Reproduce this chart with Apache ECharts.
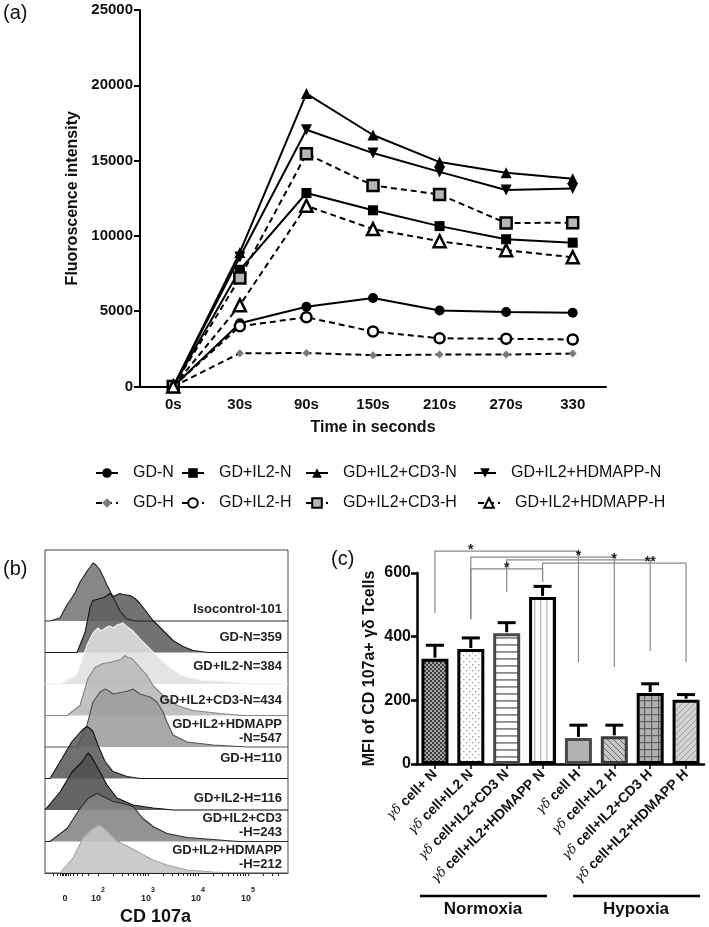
<!DOCTYPE html>
<html><head><meta charset="utf-8">
<script src="https://cdn.jsdelivr.net/npm/echarts@6/dist/echarts.min.js"></script>
<style>html,body{margin:0;padding:0;background:#fff}#c{width:709px;height:927px}</style>
</head><body><div id="c"></div>
<script>
// ---------- Panel (a) data ----------
const timeLabels = ['0s','30s','90s','150s','210s','270s','330'];
const gdN          = [0,4200,5300,5880,5050,4950,4900];
const gdIL2N       = [0,7750,12850,11700,10650,9780,9550];
const gdIL2CD3N    = [0,8900,19450,16700,14900,14200,13800];
const gdIL2HDMAPPN = [0,8600,17050,15500,14250,13050,13150];
const gdH          = [0,2210,2220,2080,2120,2120,2190];
const gdIL2H       = [0,4000,4600,3650,3200,3170,3120];
const gdIL2CD3H    = [0,7200,15450,13350,12750,10850,10880];
const gdIL2HDMAPPH = [0,5400,12000,10450,9650,9050,8580];
const seriesNamesA = ['GD-N','GD+IL2-N','GD+IL2+CD3-N','GD+IL2+HDMAPP-N','GD-H','GD+IL2-H','GD+IL2+CD3-H','GD+IL2+HDMAPP-H'];

// ---------- Panel (b) data: histogram [log-decade position, height] ----------
const histNames = ['Isocontrol-101','GD-N=359','GD+IL2-N=384','GD+IL2+CD3-N=434','GD+IL2+HDMAPP\n-N=547','GD-H=110','GD+IL2-H=116','GD+IL2+CD3\n-H=243','GD+IL2+HDMAPP\n-H=212'];
const hIso  = [[1.04,0],[1.24,3],[1.38,16],[1.54,28],[1.64,39],[1.72,45],[1.78,50],[1.86,55],[1.90,58],[1.96,56],[2.04,51],[2.18,36],[2.30,24],[2.44,10],[2.58,2],[2.74,0]];
const hGDN  = [[1.58,0],[1.74,20],[1.84,45],[1.90,52],[2.04,54],[2.12,55],[2.18,57],[2.24,59],[2.30,56],[2.34,57],[2.44,59],[2.50,58],[2.54,60],[2.64,57],[2.74,54],[2.84,49],[2.98,40],[3.10,32],[3.30,22],[3.50,12],[3.70,6],[3.90,2],[4.20,0]];
const hIL2N = [[1.24,0],[1.58,9],[1.78,39],[1.90,51],[2.00,56],[2.06,53],[2.10,54],[2.18,57],[2.24,58],[2.30,56],[2.38,59],[2.44,60],[2.50,61],[2.56,58],[2.60,59],[2.70,53],[2.90,42],[3.10,32],[3.38,19],[3.64,9],[4.04,4],[4.58,2],[5.04,0]];
const hCD3N = [[1.38,0],[1.64,10],[1.80,37],[1.94,48],[2.10,52],[2.24,53],[2.38,55],[2.46,56],[2.54,60],[2.60,58],[2.68,57],[2.84,48],[2.98,40],[3.10,30],[3.30,20],[3.58,10],[3.90,5],[4.44,2],[4.90,0]];
const hHDN  = [[1.58,0],[1.78,22],[1.90,45],[2.04,55],[2.14,58],[2.22,56],[2.30,53],[2.40,54],[2.50,55],[2.60,56],[2.70,58],[2.84,53],[3.04,50],[3.18,45],[3.30,35],[3.38,25],[3.50,12],[3.78,5],[4.30,2],[5.00,0]];
const hGDH  = [[1.04,0],[1.28,20],[1.48,37],[1.64,46],[1.72,50],[1.78,52],[1.84,50],[1.90,47],[2.00,33],[2.14,17],[2.30,7],[2.58,2],[2.84,0]];
const hIL2H = [[0.98,0],[1.24,18],[1.48,38],[1.68,48],[1.76,54],[1.80,57],[1.86,54],[1.90,52],[2.04,38],[2.18,25],[2.38,12],[2.70,5],[3.10,2],[3.50,0]];
const hCD3H = [[1.04,0],[1.38,13],[1.64,33],[1.80,43],[1.98,48],[2.10,45],[2.30,40],[2.50,38],[2.70,35],[2.90,23],[3.10,15],[3.38,8],[3.78,4],[4.30,2],[4.80,0]];
const hHDH  = [[1.24,0],[1.50,15],[1.70,35],[1.90,45],[2.04,48],[2.18,42],[2.38,32],[2.58,27],[2.84,20],[3.10,13],[3.38,8],[3.78,3],[4.30,1],[4.80,0]];
const histData = [hIso,hGDN,hIL2N,hCD3N,hHDN,hGDH,hIL2H,hCD3H,hHDH];
const histTickPos = [1.34,2,3,4,5];
const histTickText = ['0','2','3','4','5'];

// ---------- Panel (c) data ----------
const mfiCats = ['γδ cell+ N','γδ cell+IL2 N','γδ cell+IL2+CD3 N','γδ cell+IL2+HDMAPP N','γδ cell H','γδ cell+IL2 H','γδ cell+IL2+CD3 H','γδ cell+IL2+HDMAPP H'];
const mfiMean = [331,361,411,525,82,87,223,202];
const mfiSem  = [42,35,33,33,40,35,29,16];
const sigPairs  = [[0,4],[1,5],[2,6],[3,7],[1,3]];
const sigLevels = [669,650,641,631,613];
const sigLeftEnd  = [474,455,540,572,455];
const sigRightEnd = [320,305,355,320,572];
const sigLabels = ['*','*','*','**','*'];
const sigLabelPos = [1.42,4.26,5.29,6.46,2.42];
const groupNames = ['Normoxia','Hypoxia'];

// ---------- build ----------
const FONT = 'Liberation Sans, Arial, Helvetica, sans-serif';
const chart = echarts.init(document.getElementById('c'), null, {renderer:'canvas'});

function pat(size, draw){const c=document.createElement('canvas');c.width=c.height=size;const x=c.getContext('2d');draw(x,size);return {image:c,repeat:'repeat'};}
const barFills = [
  pat(4,(x,s)=>{x.fillStyle='#3c3c3c';x.fillRect(0,0,s,s);x.fillStyle='#a8a8a8';x.fillRect(0,0,2,2);x.fillRect(2,2,2,2);}),
  pat(6,(x,s)=>{x.fillStyle='#fff';x.fillRect(0,0,s,s);x.fillStyle='#9a9a9a';x.fillRect(1,1,1.3,1.3);x.fillRect(4,4,1.3,1.3);}),
  pat(7,(x,s)=>{x.fillStyle='#fff';x.fillRect(0,0,s,s);x.fillStyle='#8a8a8a';x.fillRect(0,0,s,1.8);}),
  pat(6,(x,s)=>{x.fillStyle='#fff';x.fillRect(0,0,s,s);x.fillStyle='#c4c4c4';x.fillRect(0,0,1.5,s);}),
  '#b3b3b3',
  pat(6,(x,s)=>{x.fillStyle='#c6c6c6';x.fillRect(0,0,s,s);x.strokeStyle='#6a6a6a';x.lineWidth=1;x.beginPath();[-6,0,6].forEach(k=>{x.moveTo(k,0);x.lineTo(k+6,6);});x.stroke();}),
  pat(7,(x,s)=>{x.fillStyle='#b0b0b0';x.fillRect(0,0,s,s);x.fillStyle='#5e5e5e';x.fillRect(0,0,s,1.2);x.fillRect(0,0,1.2,s);}),
  pat(6,(x,s)=>{x.fillStyle='#d2d2d2';x.fillRect(0,0,s,s);x.strokeStyle='#a0a0a0';x.lineWidth=1;x.beginPath();[-6,0,6].forEach(k=>{x.moveTo(k,6);x.lineTo(k+6,0);});x.stroke();})
];
const barBorders = ['#000','#000','#4a4a4a','#000','#4a4a4a','#3a3a3a','#000','#000'];

// panel (a) series styles
const aData = [gdN,gdIL2N,gdIL2CD3N,gdIL2HDMAPPN,gdH,gdIL2H,gdIL2CD3H,gdIL2HDMAPPH];
const aSym = ['circle','rect','triangle','path://M0,0L10,0L5,9Z','diamond','circle','rect','triangle'];
const aSize = [10,10,11,11,8,10,11,12];
const aFill = ['#000','#000','#000','#000','#7a7a7a','#fff','#b5b5b5','#fff'];
const aBorderW = [0,0,0,0,0,2.5,2.5,2.5];
const seriesA = aData.map((d,i)=>({
  type:'line', name:seriesNamesA[i], xAxisIndex:0, yAxisIndex:0, data:d,
  symbol:aSym[i], symbolSize:aSize[i], showAllSymbol:true,
  lineStyle:{color:'#000', width:2, type: i<4 ? 'solid' : [6,4]},
  itemStyle:{color:aFill[i], borderColor:'#000', borderWidth:aBorderW[i]},
  z: 3+i
}));
const legPos = [[90,460],[176,460],[300,460],[468,460],[90,490],[176,490],[300,490],[472,490]];
const legends = seriesNamesA.map((n,i)=>({
  data:[n], left:legPos[i][0], top:legPos[i][1], orient:'horizontal', selectedMode:false,
  itemWidth:22, itemHeight:12, itemGap:0,
  textStyle:{fontSize:16, fontFamily:FONT, color:'#111', padding:[0,0,0,10]}
}));

// panel (b) series
const histFill = ['#767676','#5e5e5e','#e0e0e0','#b8b8b8','#9c9c9c','#5c5c5c','#505050','#848484','#c4c4c4'];
const histLine = ['#222','#141414','#f2f2f2','#858585','#505050','#141414','#0c0c0c','#2a2a2a','#a4a4a4'];
const STEP = 31.5, XMIN=0.94, XMAX=5.8;
const seriesB = histData.map((h,i)=>{
  const off = (8-i)*STEP;
  const pts = [[XMIN,off]].concat(h.map(p=>[p[0],off+p[1]])).concat([[XMAX,off]]);
  return {type:'line', xAxisIndex:1, yAxisIndex:1, data:pts, symbol:'none', silent:true,
    lineStyle:{color:histLine[i], width:1.1},
    areaStyle:{color:histFill[i], opacity:0.88, origin:off}, z:2};
});
const labLift = [12,15,18,15,16,20,12,16,16];
seriesB.push({type:'custom', xAxisIndex:1, yAxisIndex:1, clip:false, silent:true, z:10,
  data: histNames.map((n,i)=>[XMAX, (8-i)*STEP, i]),
  renderItem:(p,api)=>{const i=api.value(2);const c=api.coord([api.value(0),api.value(1)]);
    return {type:'text', x:c[0]-6, y:c[1]-labLift[i], style:{text:histNames[i], font:'bold 13px '+FONT, fill:'#222', align:'right', verticalAlign:'middle', lineHeight:14}};}
});

// minor log ticks for flow axis
const flowTicks = [1.1,1.18,1.24,1.28,1.31,1.34,1.37,1.4,1.44,1.5,1.58,1.68,1.8];
for(let d=2; d<=5; d++){ flowTicks.push(d); if(d<5) for(let k=2;k<=9;k++) flowTicks.push(d+Math.log10(k)); }
flowTicks.push(5.301,5.477,5.602);

// panel (c) series
const seriesC = [
  {type:'bar', xAxisIndex:2, yAxisIndex:2, barWidth:27, z:2,
   data: mfiMean.map((v,i)=>({value:v, itemStyle:{color:barFills[i], borderColor:barBorders[i], borderWidth:3}}))},
  {type:'custom', xAxisIndex:2, yAxisIndex:2, clip:false, z:4, silent:true,
   data: mfiMean.map((m,i)=>[i,m,m+mfiSem[i]]),
   renderItem:(p,api)=>{const a=api.coord([api.value(0),api.value(1)]);const b=api.coord([api.value(0),api.value(2)]);
     return {type:'group',children:[
       {type:'line',shape:{x1:a[0],y1:a[1]-1,x2:b[0],y2:b[1]},style:{stroke:'#000',lineWidth:3}},
       {type:'line',shape:{x1:b[0]-9,y1:b[1],x2:b[0]+9,y2:b[1]},style:{stroke:'#000',lineWidth:3}}]};}},
  {type:'custom', xAxisIndex:2, yAxisIndex:2, clip:false, z:1, silent:true,
   data: sigPairs.map((pr,i)=>[pr[0],pr[1],sigLevels[i],sigLeftEnd[i],sigRightEnd[i]]),
   renderItem:(p,api)=>{const x1=api.value(0),x2=api.value(1),lv=api.value(2);
     const pts=[api.coord([x1,api.value(3)]),api.coord([x1,lv]),api.coord([x2,lv]),api.coord([x2,api.value(4)])];
     return {type:'polyline',shape:{points:pts},style:{stroke:'#8a8a8a',lineWidth:1.2,fill:null}};}},
  {type:'custom', xAxisIndex:2, yAxisIndex:2, clip:false, z:5, silent:true,
   data: sigLabels.map((s,i)=>[sigLabelPos[i], sigLevels[i], i]),
   renderItem:(p,api)=>{const c=api.coord([api.value(0),api.value(1)]);
     return {type:'text',x:c[0],y:c[1]-1,style:{text:sigLabels[api.value(2)],font:'bold 14px '+FONT,fill:'#222',align:'center',verticalAlign:'middle'}};}}
];

const option = {
  animation:false,
  backgroundColor:'#fff',
  textStyle:{fontFamily:FONT},
  legend: legends,
  grid:[
    {left:140, right:103, top:10, bottom:540.5},
    {left:45, right:421, top:550, bottom:54, show:true, borderColor:'#444', borderWidth:1},
    {left:417, right:5, top:573, bottom:163}
  ],
  xAxis:[
    {gridIndex:0, type:'category', data:timeLabels, boundaryGap:true,
     axisLine:{lineStyle:{color:'#000',width:2}}, axisTick:{show:false},
     axisLabel:{fontSize:15, fontWeight:'bold', color:'#111', margin:11},
     name:'Time in seconds', nameLocation:'middle', nameGap:33,
     nameTextStyle:{fontSize:16, fontWeight:'bold', color:'#111'}},
    {gridIndex:1, type:'value', min:XMIN, max:XMAX, splitLine:{show:false},
     axisLine:{lineStyle:{color:'#222',width:1}},
     axisTick:{customValues:flowTicks, length:3, lineStyle:{color:'#222',width:1}},
     axisLabel:{customValues:histTickPos, margin:14, color:'#222',
       formatter:(v)=>{const i=histTickPos.indexOf(v); if(i===0) return '{b|0}'; return '{b|10}{s|'+histTickText[i]+'}';},
       rich:{b:{fontSize:9, fontWeight:'bold', color:'#222', lineHeight:16, verticalAlign:'bottom'}, s:{fontSize:7, fontWeight:'bold', color:'#222', lineHeight:16, verticalAlign:'top'}}},
     name:'CD 107a', nameLocation:'middle', nameGap:35,
     nameTextStyle:{fontSize:18, fontWeight:'bold', color:'#111', padding:[0,22,0,0]}},
    {gridIndex:2, type:'category', data:mfiCats,
     axisLine:{lineStyle:{color:'#000',width:2.5}},
     axisTick:{show:true, alignWithLabel:true, length:5, lineStyle:{color:'#000',width:1.5}},
     axisLabel:{rotate:45, interval:0, margin:8, fontSize:14, fontWeight:'bold', color:'#111',
       formatter:(v)=>'{g|'+v.slice(0,2)+'}'+v.slice(2),
       rich:{g:{fontFamily:'DejaVu Serif', fontStyle:'italic', fontWeight:'normal', fontSize:13, color:'#111'}}}}
  ],
  yAxis:[
    {gridIndex:0, type:'value', min:0, max:25000, interval:5000, splitLine:{show:false},
     axisLine:{show:true, lineStyle:{color:'#000',width:2}},
     axisTick:{show:true, length:6, lineStyle:{color:'#000',width:2}},
     axisLabel:{fontSize:15, fontWeight:'bold', color:'#111', margin:7, formatter:(v)=>String(v)},
     name:'Fluoroscence intensity', nameLocation:'middle', nameGap:53,
     nameTextStyle:{fontSize:16, fontWeight:'bold', color:'#111'}},
    {gridIndex:1, type:'value', min:0, max:323, show:false},
    {gridIndex:2, type:'value', min:0, max:600, interval:200, splitLine:{show:false},
     axisLine:{show:true, lineStyle:{color:'#000',width:2.5}},
     axisTick:{show:true, length:6, lineStyle:{color:'#000',width:2.5}},
     axisLabel:{fontSize:16, fontWeight:'bold', color:'#111', margin:6},
     name:'MFI of CD 107a+ γδ Tcells', nameLocation:'middle', nameGap:39,
     nameTextStyle:{fontSize:16, fontWeight:'bold', color:'#111'}}
  ],
  graphic:[
    {type:'text', left:3, top:3, style:{text:'(a)', font:'20px '+FONT, fill:'#111'}},
    {type:'text', left:3, top:559, style:{text:'(b)', font:'20px '+FONT, fill:'#111'}},
    {type:'text', left:331, top:549, style:{text:'(c)', font:'20px '+FONT, fill:'#111'}},
    {type:'line', shape:{x1:420,y1:896,x2:547,y2:896}, style:{stroke:'#000',lineWidth:2.5}},
    {type:'line', shape:{x1:573,y1:896,x2:700,y2:896}, style:{stroke:'#000',lineWidth:2.5}},
    {type:'text', x:483, y:909, style:{text:groupNames[0], font:'bold 17px '+FONT, fill:'#111', align:'center', verticalAlign:'middle'}},
    {type:'text', x:636, y:909, style:{text:groupNames[1], font:'bold 17px '+FONT, fill:'#111', align:'center', verticalAlign:'middle'}}
  ],
  series: seriesA.concat(seriesB).concat(seriesC)
};
chart.setOption(option);
</script>
</body></html>
